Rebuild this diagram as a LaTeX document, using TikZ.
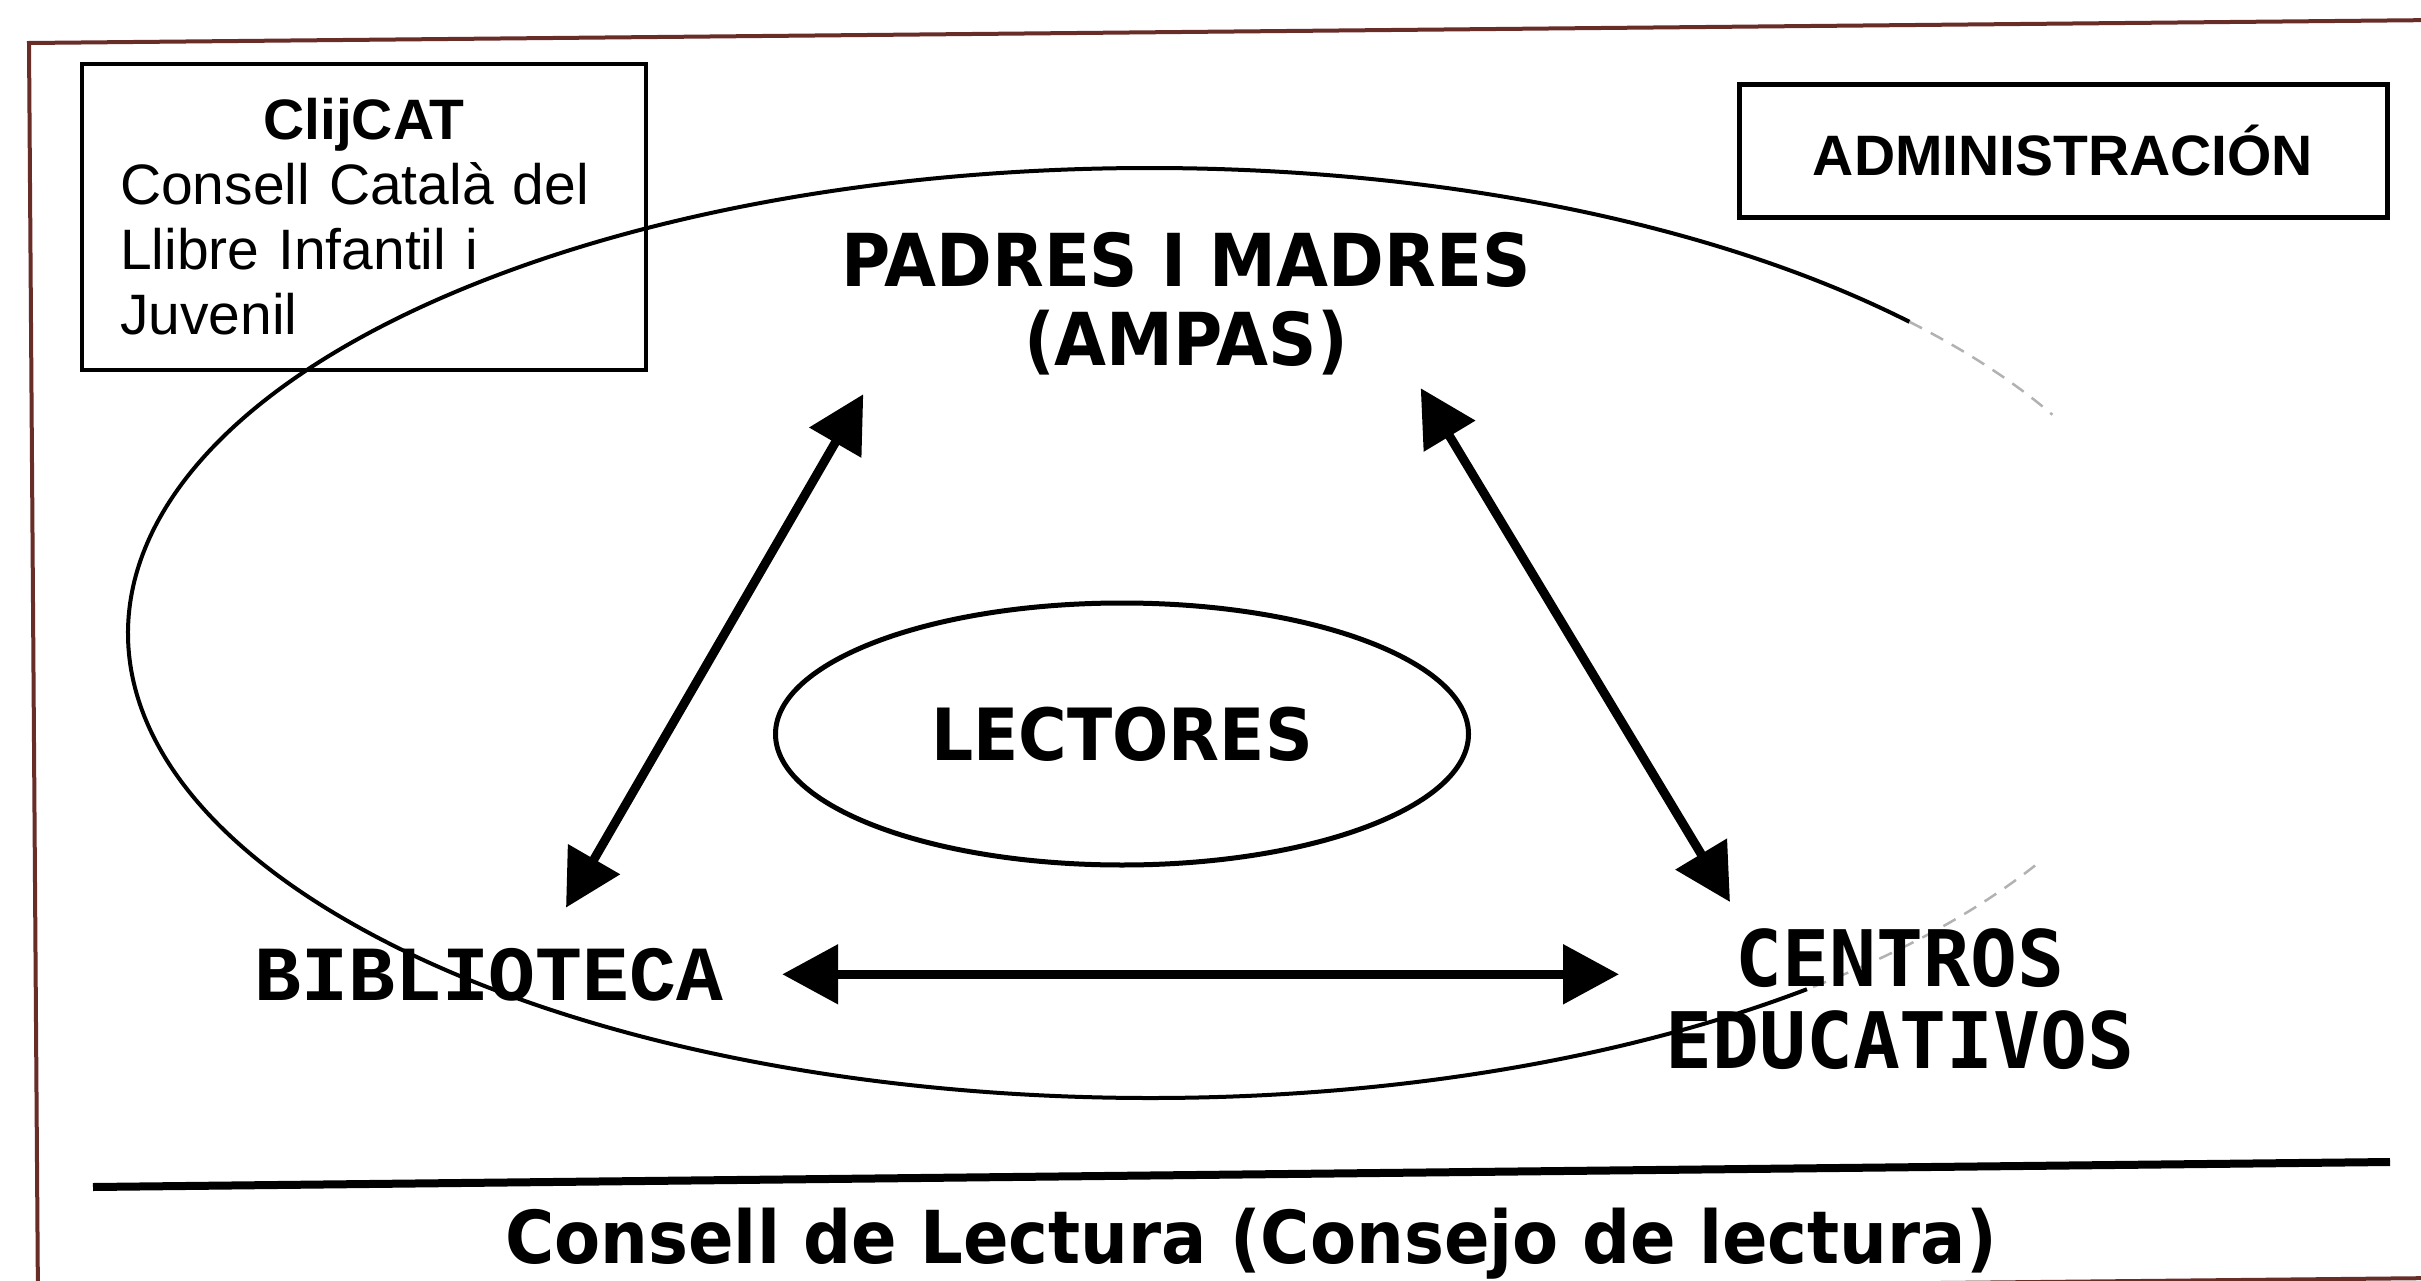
\documentclass[tikz,border=0pt]{standalone}
\usepackage{fontspec}
\setmainfont{Liberation Sans}
\newfontfamily\verdb[FakeStretch=0.92]{DejaVu Sans}
\newfontfamily\courb{Liberation Mono}
\newfontfamily\monob{DejaVu Sans Mono}
\usetikzlibrary{arrows.meta,shapes.geometric}
\definecolor{framecol}{RGB}{105,45,40}
\begin{document}
\begin{tikzpicture}[x=1pt,y=-1pt,
  biarrow/.style={line width=9pt,{Triangle[length=56pt,width=58pt]}-{Triangle[length=56pt,width=58pt]}},
  txt/.style={inner sep=0pt,align=center}]
\useasboundingbox[fill=white] (0,0) rectangle (2421,1281);
% outer frame
\draw[framecol,line width=4pt] (38,1302) -- (29,43) -- (2440,20);
\draw[framecol,line width=4pt] (38,1302) -- (2440,1278);
% boxes
\node[draw,line width=4pt,anchor=north west,minimum width=564pt,minimum height=306pt,
  text width=488pt,inner xsep=38pt,inner ysep=0pt,align=left,
  font=\fontsize{57}{65}\selectfont] (clij) at (80,62)
  {\makebox[488pt]{\bfseries ClijCAT}\\Consell Català del\\Llibre Infantil i\\Juvenil};
\node[draw,line width=5pt,minimum width=648pt,minimum height=133pt,
  font=\bfseries\fontsize{57}{57}\selectfont] (admin) at (2063,151) {ADMINISTRACIÓN};
% big ellipse, right side faded
\draw[line width=4pt] (1150,633) ++(50:1022 and 465)
  arc[start angle=50,end angle=318,x radius=1022,y radius=465];
\draw[black!30,line width=2.5pt,dash pattern=on 14pt off 10pt] (1150,633) ++(318:1022 and 465)
  arc[start angle=318,end angle=332,x radius=1022,y radius=465];
\draw[black!30,line width=2.5pt,dash pattern=on 14pt off 10pt] (1150,633) ++(30:1022 and 465)
  arc[start angle=30,end angle=50,x radius=1022,y radius=465];
% labels
\node[draw,ellipse,line width=5pt,minimum width=693pt,minimum height=262pt,inner sep=0pt,
  font=\verdb\bfseries\fontsize{72}{72}\selectfont] (lect) at (1122,734) {LECTORES};
\node[txt,anchor=north,font=\verdb\bfseries\fontsize{73}{79}\selectfont] (padres) at (1186,232)
  {PADRES I MADRES\\(AMPAS)};
\node[txt,anchor=base,font=\courb\bfseries\fontsize{78}{78}\selectfont] (bib) at (489,1000) {BIBLIOTECA};
\node[txt,anchor=north,font=\monob\bfseries\fontsize{78}{82}\selectfont] (cen) at (1900,928)
  {CENTROS\\EDUCATIVOS};
% arrows
\draw[biarrow] ([xshift=77pt,yshift=40pt]bib.north) -- ([xshift=22pt,yshift=-19pt]padres.south west);
\draw[biarrow] ([xshift=-110pt,yshift=-13pt]padres.south east) -- ([xshift=65pt,yshift=26pt]cen.north west);
\draw[biarrow,shorten <=59pt,shorten >=46pt] (bib.east) -- (bib.east -| cen.west);
% footer
\draw[line width=8pt] (93,1187) -- (2390,1162);
\node[txt,anchor=base,font=\verdb\bfseries\fontsize{73}{73}\selectfont] (title) at (1251,1263)
  {Consell de Lectura (Consejo de lectura)};
\end{tikzpicture}
\end{document}
